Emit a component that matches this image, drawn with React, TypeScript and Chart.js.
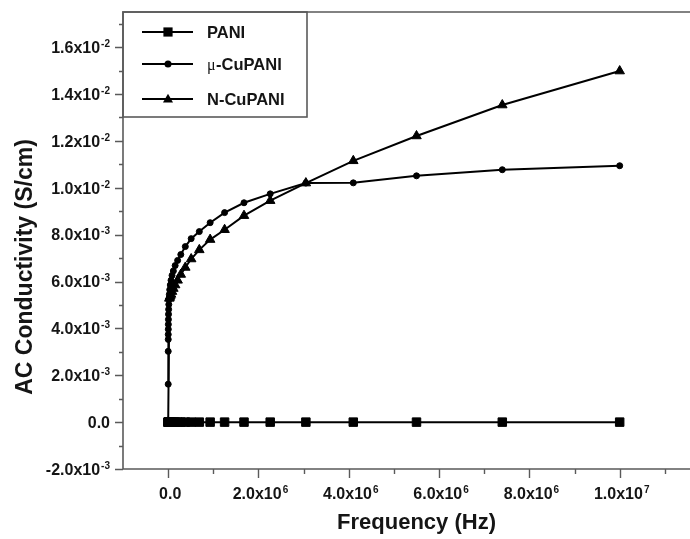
import React, { useEffect, useRef } from 'react';
import { Chart, registerables } from 'chart.js';

Chart.register(...registerables);

// Frequency (Hz), ascending
const frequencyHz = [
  1000, 1300, 1800, 2400, 3200, 4300, 5800, 7800, 10500, 14000, 19000,
  26000, 35000, 47000, 64000, 86000, 115000, 155000, 210000, 280000, 380000,
  510000, 690000, 930000, 1250000, 1680000, 2260000, 3050000, 4100000,
  5500000, 7400000, 10000000,
];

// AC conductivity (S/cm)
const paniSigma = [
  0, 0, 0, 0, 0, 0, 0, 0, 0, 0, 0,
  0, 0, 0, 0, 0, 0, 0, 0, 0, 0,
  0, 0, 0, 0, 0, 0, 0, 0,
  0, 0, 0,
];

const muCuPaniSigma = [
  1.62e-3, 3.02e-3, 3.53e-3, 3.74e-3, 3.96e-3, 4.17e-3, 4.38e-3, 4.6e-3, 4.81e-3, 5.02e-3, 5.23e-3,
  5.45e-3, 5.65e-3, 5.85e-3, 6.05e-3, 6.26e-3, 6.45e-3, 6.68e-3, 6.9e-3, 7.15e-3, 7.49e-3,
  7.83e-3, 8.13e-3, 8.51e-3, 8.94e-3, 9.36e-3, 9.74e-3, 10.2e-3, 10.21e-3,
  10.51e-3, 10.77e-3, 10.94e-3,
];

const nCuPaniSigma = [
  0, null, null, null, null, null, null, null, null, null, null,
  5.28e-3, 5.32e-3, 5.38e-3, 5.45e-3, 5.57e-3, 5.7e-3, 5.85e-3, 6.05e-3, 6.3e-3, 6.6e-3,
  6.96e-3, 7.35e-3, 7.79e-3, 8.21e-3, 8.81e-3, 9.45e-3, 10.2e-3, 11.15e-3,
  12.21e-3, 13.53e-3, 14.98e-3,
];

const seriesNames = ['PANI', 'μ-CuPANI', 'N-CuPANI'];

const xTickValues = [0, 2e6, 4e6, 6e6, 8e6, 1e7];
const xTickLabels = ['0.0', '2.0x10^6', '4.0x10^6', '6.0x10^6', '8.0x10^6', '1.0x10^7'];
const yTickValues = [-0.002, 0, 0.002, 0.004, 0.006, 0.008, 0.01, 0.012, 0.014, 0.016];
const yTickLabels = [
  '-2.0x10^-3', '0.0', '2.0x10^-3', '4.0x10^-3', '6.0x10^-3', '8.0x10^-3',
  '1.0x10^-2', '1.2x10^-2', '1.4x10^-2', '1.6x10^-2',
];
const xMinorValues = [1e6, 3e6, 5e6, 7e6, 9e6, 1.1e7];
const yMinorValues = [-0.001, 0.001, 0.003, 0.005, 0.007, 0.009, 0.011, 0.013, 0.015, 0.017];

const xTitle = 'Frequency (Hz)';
const yTitle = 'AC Conductivity (S/cm)';

const FONT = '"Liberation Sans", Arial, sans-serif';
const FRAME = '#5a5a5a';
const INK = '#151515';

function drawSci(ctx: CanvasRenderingContext2D, label: string, x: number, baseY: number, align: 'right' | 'center') {
  const parts = label.split('^');
  const mant = parts[0];
  const exp = parts[1] || '';
  ctx.font = `bold 16px ${FONT}`;
  const mw = ctx.measureText(mant).width;
  ctx.font = `bold 10px ${FONT}`;
  const ew = exp ? ctx.measureText(exp).width + 1 : 0;
  const total = mw + ew;
  const left = align === 'right' ? x - total : x - total / 2;
  ctx.textAlign = 'left';
  ctx.textBaseline = 'alphabetic';
  ctx.fillStyle = INK;
  ctx.font = `bold 16px ${FONT}`;
  ctx.fillText(mant, left, baseY);
  if (exp) {
    ctx.font = `bold 10px ${FONT}`;
    ctx.fillText(exp, left + mw + 1, baseY - 6);
  }
}

function drawMarker(ctx: CanvasRenderingContext2D, kind: string, x: number, y: number) {
  ctx.beginPath();
  if (kind === 'rect') {
    ctx.rect(x - 4.6, y - 4.6, 9.2, 9.2);
  } else if (kind === 'circle') {
    ctx.arc(x, y, 3.5, 0, Math.PI * 2);
  } else {
    const r = 5.8;
    ctx.moveTo(x, y - r);
    ctx.lineTo(x + r * 0.866, y + r * 0.5);
    ctx.lineTo(x - r * 0.866, y + r * 0.5);
    ctx.closePath();
  }
  ctx.fill();
}

const decorPlugin = {
  id: 'decor',
  afterDraw(chart: any) {
    const { ctx, chartArea, scales } = chart;
    const x = scales.x;
    const y = scales.y;
    const { left, right, top, bottom } = chartArea;
    ctx.save();
    // frame
    ctx.strokeStyle = FRAME;
    ctx.lineWidth = 1.6;
    ctx.beginPath();
    ctx.moveTo(left, top);
    ctx.lineTo(right, top);
    ctx.lineTo(right, bottom);
    ctx.lineTo(left, bottom);
    ctx.closePath();
    ctx.stroke();

    // ticks
    ctx.lineWidth = 1.4;
    ctx.beginPath();
    yTickValues.forEach((v) => {
      const py = Math.round(y.getPixelForValue(v)) + 0.5;
      ctx.moveTo(left - 8, py);
      ctx.lineTo(left, py);
    });
    yMinorValues.forEach((v) => {
      const py = Math.round(y.getPixelForValue(v)) + 0.5;
      ctx.moveTo(left - 4, py);
      ctx.lineTo(left, py);
    });
    xTickValues.forEach((v) => {
      const px = Math.round(x.getPixelForValue(v)) + 0.5;
      ctx.moveTo(px, bottom);
      ctx.lineTo(px, bottom + 9);
    });
    xMinorValues.forEach((v) => {
      const px = Math.round(x.getPixelForValue(v)) + 0.5;
      ctx.moveTo(px, bottom);
      ctx.lineTo(px, bottom + 5);
    });
    ctx.stroke();

    // tick labels
    yTickValues.forEach((v, i) => {
      const py = y.getPixelForValue(v);
      drawSci(ctx, yTickLabels[i], left - 13, py + 5.8, 'right');
    });
    xTickValues.forEach((v, i) => {
      const px = x.getPixelForValue(v);
      drawSci(ctx, xTickLabels[i], px + 2, bottom + 30, 'center');
    });

    // axis titles
    ctx.fillStyle = INK;
    ctx.textAlign = 'center';
    ctx.textBaseline = 'alphabetic';
    ctx.font = `bold 22px ${FONT}`;
    ctx.fillText(xTitle, (left + right) / 2, 529);
    ctx.save();
    ctx.translate(32, 267);
    ctx.rotate(-Math.PI / 2);
    ctx.font = `bold 23px ${FONT}`;
    ctx.fillText(yTitle, 0, 0);
    ctx.restore();

    // legend
    const lx = left;
    const ly = top;
    ctx.fillStyle = '#ffffff';
    ctx.fillRect(lx + 1, ly + 1, 183, 104);
    ctx.strokeStyle = FRAME;
    ctx.lineWidth = 1.6;
    ctx.strokeRect(lx, ly, 184, 105);
    const rows = [20, 52, 87];
    const kinds = ['rect', 'circle', 'triangle'];
    rows.forEach((dy, i) => {
      const ry = ly + dy;
      ctx.strokeStyle = '#000';
      ctx.lineWidth = 2;
      ctx.beginPath();
      ctx.moveTo(lx + 19, ry);
      ctx.lineTo(lx + 70, ry);
      ctx.stroke();
      ctx.fillStyle = '#000';
      drawMarker(ctx, kinds[i], lx + 45, ry + (kinds[i] === 'triangle' ? 0.5 : 0));
      ctx.fillStyle = INK;
      ctx.textAlign = 'left';
      ctx.textBaseline = 'alphabetic';
      const name = seriesNames[i];
      let tx = lx + 84;
      if (name.startsWith('μ')) {
        ctx.font = `16px "Liberation Serif", serif`;
        ctx.fillText('μ', tx, ry + 6);
        tx += ctx.measureText('μ').width + 0.5;
        ctx.font = `bold 16.5px ${FONT}`;
        ctx.fillText(name.slice(1), tx, ry + 6);
      } else {
        ctx.font = `bold 16.5px ${FONT}`;
        ctx.fillText(name, tx, ry + 6);
      }
    });
    ctx.restore();
  },
};

export default function App() {
  const canvasRef = useRef<HTMLCanvasElement | null>(null);

  useEffect(() => {
    const canvas = canvasRef.current;
    if (!canvas) return;
    const toPoints = (vals: (number | null)[]) => frequencyHz.map((f, i) => ({ x: f, y: vals[i] }));
    const common = {
      borderColor: '#000',
      backgroundColor: '#000',
      borderWidth: 2,
      pointBackgroundColor: '#000',
      pointBorderColor: '#000',
      pointBorderWidth: 1,
      tension: 0,
      spanGaps: true,
      fill: false,
    };
    const chart = new Chart(canvas, {
      type: 'line',
      data: {
        datasets: [
          { ...common, label: seriesNames[0], data: toPoints(paniSigma), pointStyle: 'rect', pointRadius: 6 },
          { ...common, label: seriesNames[1], data: toPoints(muCuPaniSigma), pointStyle: 'circle', pointRadius: 3 },
          { ...common, label: seriesNames[2], data: toPoints(nCuPaniSigma), pointStyle: 'triangle', pointRadius: 5.5 },
        ],
      },
      options: {
        responsive: false,
        animation: false,
        devicePixelRatio: 1,
        layout: { padding: { left: 0, top: 12, right: 2, bottom: 0 } },
        plugins: { legend: { display: false }, tooltip: { enabled: false } },
        scales: {
          x: {
            type: 'linear',
            min: -1e6,
            max: 1.2e7,
            grid: { display: false },
            border: { display: false },
            ticks: { display: false },
            afterFit: (s: any) => { s.height = 70; },
          },
          y: {
            type: 'linear',
            min: -0.002,
            max: 0.0175,
            grid: { display: false },
            border: { display: false },
            ticks: { display: false },
            afterFit: (s: any) => { s.width = 123; },
          },
        },
      },
      plugins: [decorPlugin],
    } as any);
    return () => chart.destroy();
  }, []);

  return (
    <div style={{ position: 'fixed', left: 0, top: 0, width: 690, height: 539, overflow: 'hidden', background: '#fff' }}>
      <canvas ref={canvasRef} width={717} height={539} style={{ display: 'block', width: 717, height: 539 }} />
    </div>
  );
}
